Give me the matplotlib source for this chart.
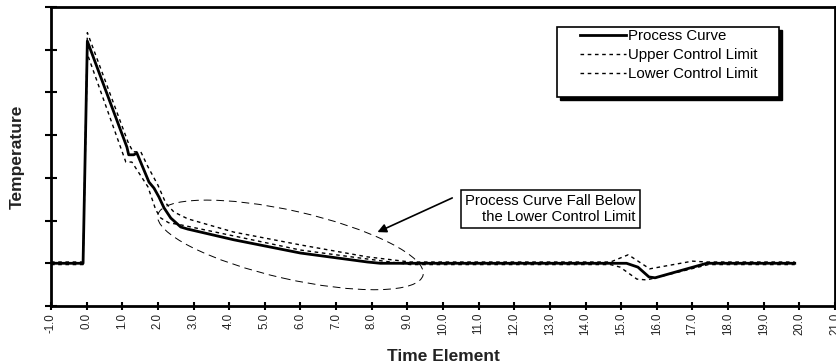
import matplotlib
matplotlib.use('Agg')
import matplotlib.pyplot as plt
import matplotlib.patches as mpatches
import matplotlib.transforms as mtransforms
import numpy as np

plt.rcParams['font.family'] = ['Liberation Sans', 'DejaVu Sans']

# values
proc_x = [-1.0, -0.1, 0.02, 1.13, 1.18, 1.32, 1.41, 1.61, 1.75, 1.89, 2.03, 2.17,
          2.36, 2.64, 2.84, 4.13, 6.0, 7.88, 8.24, 15.15, 15.47, 15.78, 15.95, 17.4, 19.87]
proc_y = [1.0, 1.0, 6.2, 3.72, 3.54, 3.54, 3.58, 3.18, 2.90, 2.76, 2.55, 2.30,
          2.06, 1.85, 1.80, 1.55, 1.24, 1.03, 1.0, 1.0, 0.91, 0.68, 0.66, 1.0, 1.0]

ucl_x = [-1.0, -0.1, 0.02, 1.16, 1.30, 1.52, 1.72, 2.0, 2.22, 2.45, 2.84, 4.13,
         6.0, 7.88, 9.08, 14.7, 15.2, 15.8, 17.0, 17.4, 19.87]
ucl_y = [1.03, 1.03, 6.4, 3.84, 3.61, 3.61, 3.26, 2.83, 2.41, 2.20, 2.04, 1.73,
         1.43, 1.15, 1.03, 1.03, 1.2, 0.87, 1.05, 1.03, 1.03]

lcl_x = [-1.0, -0.1, 0.02, 1.1, 1.27, 1.72, 1.94, 2.08, 2.3, 2.64, 4.13, 6.0,
         7.88, 8.8, 9.08, 14.7, 14.97, 15.44, 15.72, 17.45, 19.87]
lcl_y = [0.97, 0.97, 5.9, 3.37, 3.37, 2.79, 2.25, 2.06, 1.95, 1.90, 1.64, 1.31,
         1.10, 1.0, 0.97, 0.97, 0.91, 0.63, 0.61, 0.97, 0.97]

x_ticks = np.arange(-1, 22, 1)
x_labels = ["%.1f" % v for v in x_ticks]
y_ticks = range(0, 8)

series_names = ["Process Curve", "Upper Control Limit", "Lower Control Limit"]
note_text = "Process Curve Fall Below\nthe Lower Control Limit"

fig = plt.figure(figsize=(8.37, 3.64), dpi=100)
ax = fig.add_axes([51 / 837, 58 / 364, 784 / 837, 299 / 364])

l1, = ax.plot(proc_x, proc_y, color='k', lw=2.0, zorder=4)
l2, = ax.plot(ucl_x, ucl_y, color='k', lw=1.0, dashes=(2.6, 2.6), zorder=3)
l3, = ax.plot(lcl_x, lcl_y, color='k', lw=1.0, dashes=(2.6, 2.6), zorder=3)

ax.set_xlim(-1, 21)
ax.set_ylim(0, 7)
ax.set_xticks(x_ticks)
ax.set_xticklabels(x_labels)
ax.set_yticks(y_ticks)
ax.tick_params(axis='y', labelleft=False, direction='inout', length=9, width=1.5)
ax.tick_params(axis='x', direction='inout', length=6, width=1.5, labelsize=8.3,
               labelrotation=90, pad=2, labelcolor='#222222')
for s in ax.spines.values():
    s.set_linewidth(2.0)

ax.set_xlabel("Time Element", fontsize=12.5, fontweight='bold', color='#222222')
ax.set_ylabel("Temperature", fontsize=12.5, fontweight='bold', color='#222222')
ax.xaxis.set_label_coords(0.5, -0.145)
ax.yaxis.set_label_coords(-0.033, 0.5)

# dashed ellipse around the region (sized in pixels)
ell_t = mtransforms.Affine2D() + mtransforms.ScaledTranslation(5.72, 1.43, ax.transData)
ell = mpatches.Ellipse((0, 0), 272, 68, angle=-12.8, fill=False, ec='k', lw=0.7,
                       linestyle=(0, (8, 5)), transform=ell_t, zorder=2)
ax.add_patch(ell)

# annotation box + arrow
ax.text(13.02, 2.27, note_text, fontsize=10.7, ha='center', va='center',
        multialignment='right', linespacing=1.15,
        bbox=dict(boxstyle='square,pad=0.3', fc='white', ec='k', lw=1.1), zorder=5)
ax.annotate('', xy=(8.16, 1.73), xytext=(10.26, 2.53),
            arrowprops=dict(arrowstyle='-|>', mutation_scale=13, lw=1.2, color='k',
                            shrinkA=0, shrinkB=0), zorder=5)

# legend frame with drop shadow
sh_t = mtransforms.offset_copy(ax.transAxes, fig, x=3, y=-3, units='dots')
ax.add_patch(mpatches.Rectangle((0.6454, 0.699), 0.2832, 0.2341, transform=sh_t,
                                fc='k', ec='k', lw=1.0, zorder=6))
ax.add_patch(mpatches.Rectangle((0.6454, 0.699), 0.2832, 0.2341, transform=ax.transAxes,
                                fc='white', ec='k', lw=1.2, zorder=7))
leg = ax.legend([l1, l2, l3], series_names, loc='upper left',
                bbox_to_anchor=(0.6747, 0.925), borderaxespad=0, borderpad=0,
                frameon=False, fontsize=10.8, handlelength=3.1, handletextpad=0.1,
                labelspacing=0.33)
leg.set_zorder(8)

fig.savefig('out.png', dpi=100)
